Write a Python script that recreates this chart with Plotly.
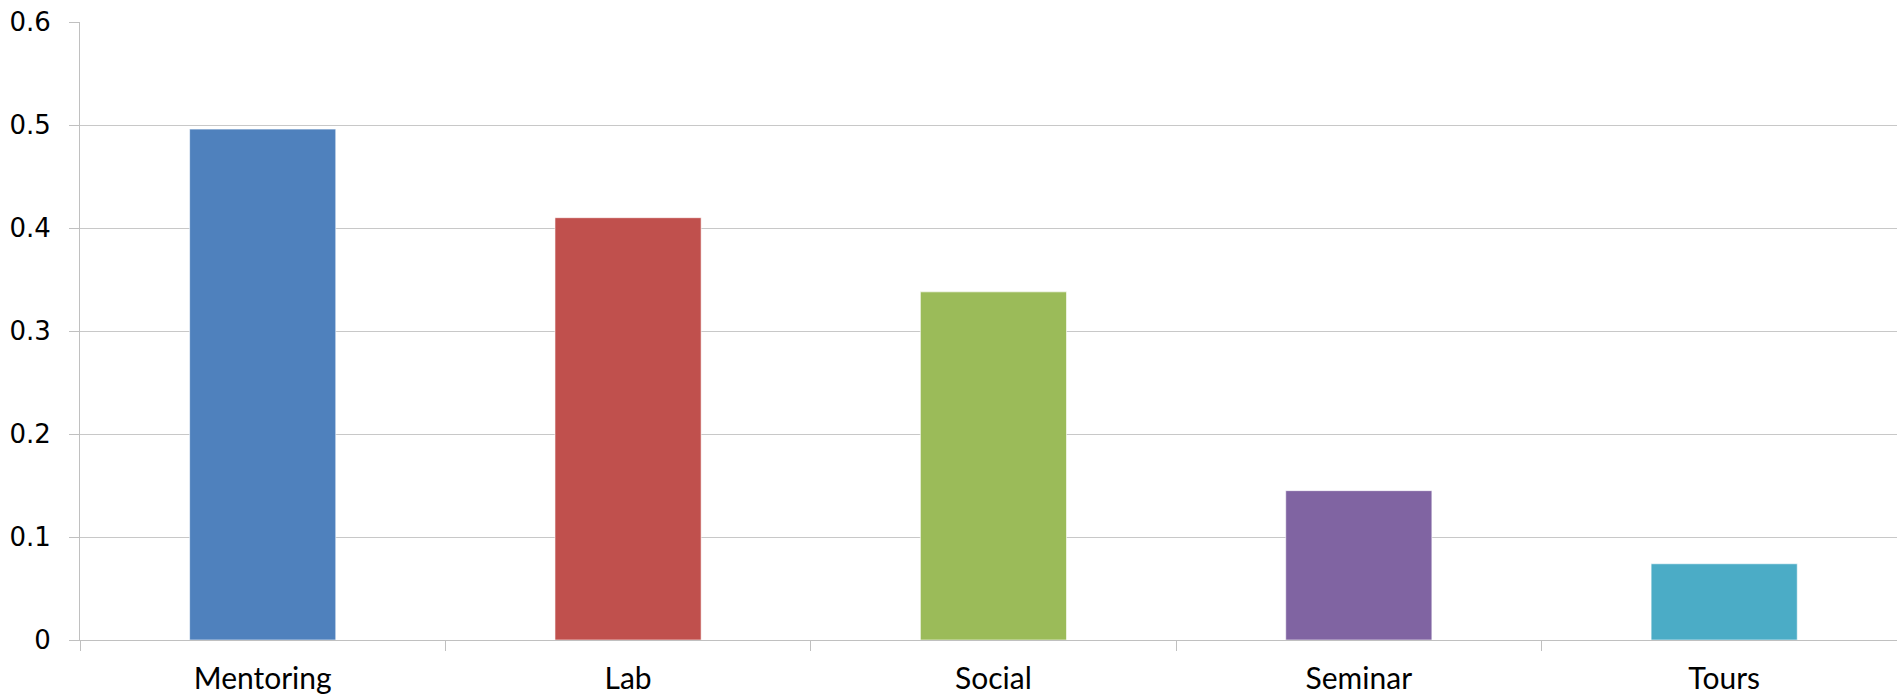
import plotly.graph_objects as go

categories = ["Mentoring", "Lab", "Social", "Seminar", "Tours"]
values = [0.496, 0.41, 0.338, 0.145, 0.074]
colors = ["#4F81BD", "#C0504D", "#9BBB59", "#8064A2", "#4BACC6"]
y_ticks = [0, 0.1, 0.2, 0.3, 0.4, 0.5, 0.6]
y_labels = ["0", "0.1", "0.2", "0.3", "0.4", "0.5", "0.6"]

fig = go.Figure(go.Bar(
    x=categories, y=values,
    marker=dict(color=colors, line=dict(color="rgba(255,255,255,0.6)", width=1)),
    width=0.4,
))

fig.update_layout(
    width=1897, height=697,
    margin=dict(l=80, r=0, t=22, b=57),
    paper_bgcolor="white", plot_bgcolor="white",
    showlegend=False,
    bargap=0.6,
)
fig.update_xaxes(
    range=[-0.5, 4.473],
    automargin=False,
    showline=True, linecolor="#c0c0c0", linewidth=1,
    ticks="outside", tickson="boundaries", ticklen=10, tickcolor="#c0c0c0",
    tickfont=dict(family="Lato", size=30, color="black"),
    ticklabelstandoff=12,
    showgrid=False,
)
fig.update_yaxes(
    range=[0, 0.6],
    automargin=False,
    tickvals=y_ticks, ticktext=y_labels,
    showline=True, linecolor="#c0c0c0", linewidth=1,
    ticks="outside", ticklen=10, tickcolor="#c0c0c0",
    tickfont=dict(family="DejaVu Sans", size=26, color="black"),
    ticklabelstandoff=13,
    showgrid=True, gridcolor="#c8c8c8", gridwidth=1,
    zeroline=False,
)

fig.write_html("out.html")
